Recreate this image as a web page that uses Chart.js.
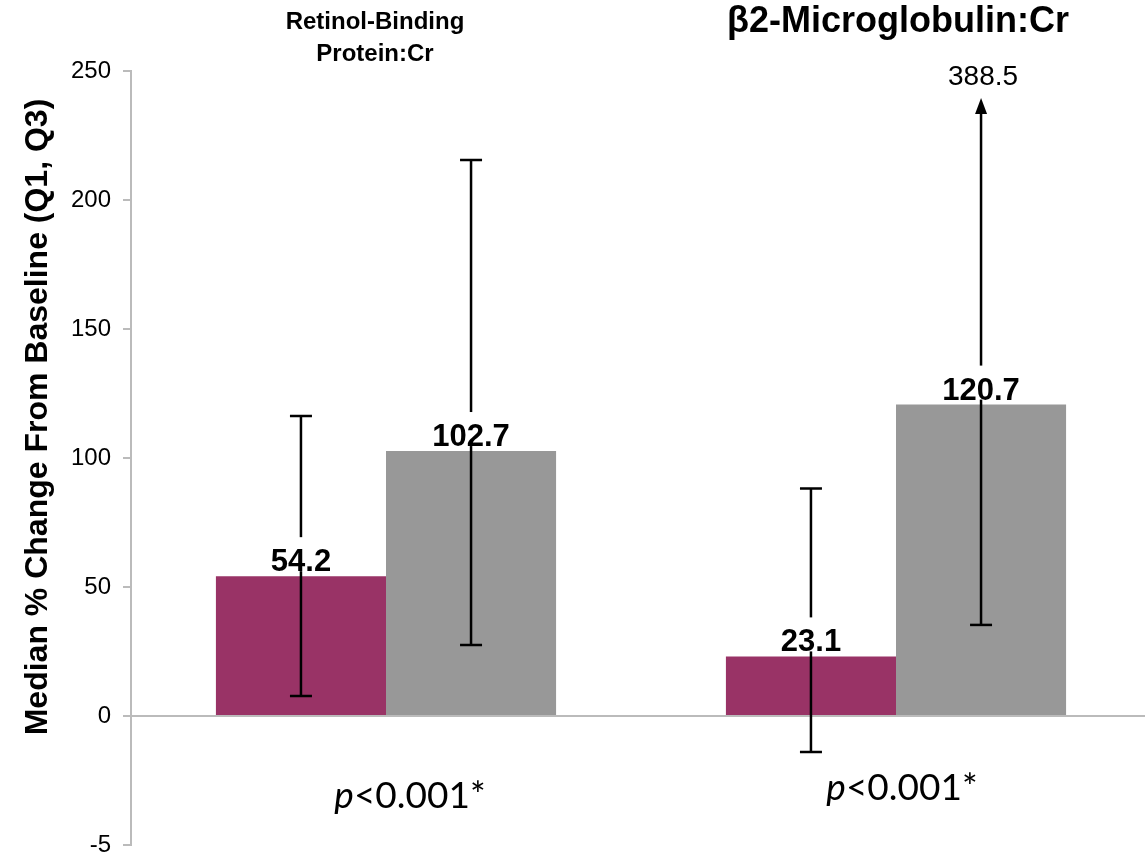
<!DOCTYPE html>
<html>
<head>
<meta charset="utf-8">
<script src="https://cdn.jsdelivr.net/npm/chart.js@4/dist/chart.umd.min.js"></script>
<style>
  html, body { margin: 0; padding: 0; background: #fff; overflow: hidden; }
  #wrap { width: 1152px; height: 862px; }
</style>
</head>
<body>
<div id="wrap"><canvas id="chart" width="1152" height="862"></canvas></div>
<script>
// data
const categories = ['Retinol-Binding Protein:Cr', 'β2-Microglobulin:Cr'];
const panelTitles = [['Retinol-Binding', 'Protein:Cr'], ['β2-Microglobulin:Cr']];
const purpleMedian = [54.2, 23.1];
const purpleQ1 = [7.8, -14.0];
const purpleQ3 = [116.3, 88.2];
const greyMedian = [102.7, 120.7];
const greyQ1 = [27.5, 35.3];
const greyQ3 = [215.5, 388.5];
const pValues = ['<0.001*', '<0.001*'];
const yTicks = [-50, 0, 50, 100, 150, 200, 250];
const yTickText = { '-50': '-5' }; // bottom label is cut in the original
const yTitle = 'Median % Change From Baseline (Q1, Q3)';

const FONT = "'Liberation Sans', Arial, sans-serif";
const PFONT = "Lato, 'Open Sans', sans-serif";
const axisGrey = '#bbbbbb';

// error bars, value labels, titles, p values
const extras = {
  id: 'extras',
  afterDatasetsDraw(chart) {
    const ctx = chart.ctx;
    const y = chart.scales.y;
    const area = chart.chartArea;
    const sets = [
      { med: purpleMedian, q1: purpleQ1, q3: purpleQ3 },
      { med: greyMedian, q1: greyQ1, q3: greyQ3 }
    ];
    ctx.save();
    sets.forEach((s, d) => {
      const meta = chart.getDatasetMeta(d);
      meta.data.forEach((bar, i) => {
        const x = bar.x;
        const yLo = y.getPixelForValue(s.q1[i]);
        const over = s.q3[i] > y.max;
        const yHi = over ? area.top + 27 : y.getPixelForValue(s.q3[i]);
        ctx.strokeStyle = '#000';
        ctx.lineWidth = 2.5;
        ctx.beginPath();
        ctx.moveTo(x, yLo);
        ctx.lineTo(x, over ? yHi + 14 : yHi);
        ctx.stroke();
        ctx.beginPath();
        ctx.moveTo(x - 11, yLo); ctx.lineTo(x + 11, yLo);
        if (!over) { ctx.moveTo(x - 11, yHi); ctx.lineTo(x + 11, yHi); }
        ctx.stroke();
        if (over) {
          ctx.fillStyle = '#000';
          ctx.beginPath();
          ctx.moveTo(x, yHi);
          ctx.lineTo(x - 6, yHi + 16);
          ctx.lineTo(x + 6, yHi + 16);
          ctx.closePath();
          ctx.fill();
          ctx.font = '28px ' + FONT;
          ctx.textAlign = 'center';
          ctx.textBaseline = 'alphabetic';
          ctx.fillText(s.q3[i].toFixed(1), x + 2, yHi - 13);
        }
        // median label with white knock-out box
        const txt = s.med[i].toFixed(1);
        ctx.font = 'bold 31px ' + FONT;
        const w = ctx.measureText(txt).width;
        const base = bar.y - 5;
        ctx.fillStyle = '#fff';
        ctx.fillRect(x - w / 2 + 4, base - 34, w - 8, 34);
        ctx.fillStyle = '#000';
        ctx.textAlign = 'center';
        ctx.textBaseline = 'alphabetic';
        ctx.fillText(txt, x, base);
      });
    });

    // y axis title
    ctx.save();
    ctx.translate(38, 417);
    ctx.rotate(-Math.PI / 2);
    ctx.fillStyle = '#000';
    ctx.textAlign = 'center';
    ctx.textBaseline = 'middle';
    ctx.font = 'bold 32px ' + FONT;
    ctx.fillText(yTitle, 0, 0);
    ctx.restore();

    // panel titles
    const x0 = chart.getDatasetMeta(0).data;
    const x1 = chart.getDatasetMeta(1).data;
    ctx.fillStyle = '#000';
    ctx.textAlign = 'center';
    ctx.textBaseline = 'middle';
    ctx.font = 'bold 24px ' + FONT;
    const c0 = (x0[0].x + x1[0].x) / 2 - 11;
    ctx.fillText(panelTitles[0][0], c0, 22);
    ctx.fillText(panelTitles[0][1], c0, 54);
    ctx.font = 'bold 36px ' + FONT;
    ctx.fillText(panelTitles[1][0], (x0[1].x + x1[1].x) / 2 + 2, 22);

    // p values
    const pY = [808, 800];
    const pX = [410, 902];
    ctx.textBaseline = 'alphabetic';
    [0, 1].forEach(i => {
      ctx.font = 'italic 37px ' + PFONT;
      const wp = ctx.measureText('p').width;
      ctx.font = '37px ' + PFONT;
      const wr = ctx.measureText(pValues[i]).width;
      const left = pX[i] - (wp + wr) / 2;
      ctx.textAlign = 'left';
      ctx.font = 'italic 37px ' + PFONT;
      ctx.fillText('p', left, pY[i]);
      ctx.font = '37px ' + PFONT;
      ctx.fillText(pValues[i], left + wp, pY[i]);
    });
    ctx.restore();
  }
};

new Chart(document.getElementById('chart'), {
  type: 'bar',
  data: {
    labels: categories,
    datasets: [
      { data: purpleMedian, backgroundColor: '#993366', borderWidth: 0 },
      { data: greyMedian, backgroundColor: '#989898', borderWidth: 0 }
    ]
  },
  options: {
    responsive: false,
    animation: false,
    layout: { padding: { top: 71, right: 1, bottom: 17, left: 0 } },
    plugins: { legend: { display: false }, tooltip: { enabled: false } },
    datasets: { bar: { categoryPercentage: 0.667, barPercentage: 1.0 } },
    scales: {
      x: {
        ticks: { display: false },
        grid: { display: false },
        border: { display: false },
        afterFit(s) { s.height = 0; }
      },
      y: {
        min: -50,
        max: 250,
        afterBuildTicks(s) { s.ticks = yTicks.map(v => ({ value: v })); },
        afterFit(s) { s.width = 131; s.paddingTop = 0; s.paddingBottom = 0; },
        ticks: {
          color: '#000',
          padding: 12,
          font: { family: FONT, size: 24 },
          callback: v => (yTickText[v] !== undefined ? yTickText[v] : String(v))
        },
        grid: {
          drawOnChartArea: true,
          color: c => (c.tick && c.tick.value === 0 ? axisGrey : 'rgba(0,0,0,0)'),
          lineWidth: 2,
          tickColor: axisGrey,
          tickLength: 8,
          tickWidth: 2
        },
        border: { display: true, color: axisGrey, width: 2 }
      }
    }
  },
  plugins: [extras]
});
</script>
</body>
</html>
